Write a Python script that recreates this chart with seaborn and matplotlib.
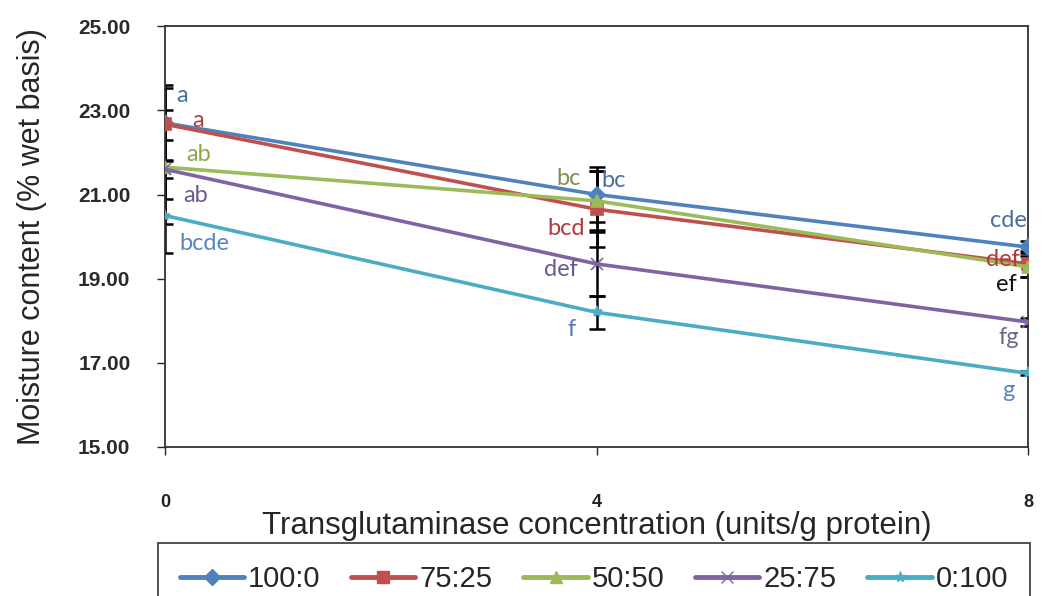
"""Moisture content vs transglutaminase concentration, by blend ratio."""

import matplotlib

matplotlib.use("Agg")
import matplotlib.pyplot as plt
import pandas as pd
import seaborn as sns
from matplotlib.lines import Line2D

concentration = [0, 4, 8]
blends = ["100:0", "75:25", "50:50", "25:75", "0:100"]

moisture_100_0 = [22.70, 21.00, 19.75]
moisture_75_25 = [22.67, 20.65, 19.35]
moisture_50_50 = [21.65, 20.85, 19.28]
moisture_25_75 = [21.60, 19.35, 17.97]
moisture_0_100 = [20.50, 18.20, 16.75]

sd_100_0 = [0.90, 0.65, 0.15]
sd_75_25 = [0.85, 0.90, 0.30]
sd_50_50 = [1.35, 0.70, 0.25]
sd_25_75 = [0.70, 0.75, 0.10]
sd_0_100 = [0.90, 0.40, 0.05]

letters_100_0 = ["a", "bc", "cde"]
letters_75_25 = ["a", "bcd", "def"]
letters_50_50 = ["ab", "bc", "ef"]
letters_25_75 = ["ab", "def", "fg"]
letters_0_100 = ["bcde", "f", "g"]

colors = ["#4F81BD", "#C0504D", "#9BBB59", "#8064A2", "#4BACC6"]
markers = ["D", "s", "^", "x", "*"]

means = [moisture_100_0, moisture_75_25, moisture_50_50, moisture_25_75, moisture_0_100]
sds = [sd_100_0, sd_75_25, sd_50_50, sd_25_75, sd_0_100]
letters = [letters_100_0, letters_75_25, letters_50_50, letters_25_75, letters_0_100]

rows = []
for b, m, s in zip(blends, means, sds):
    for c, v, e in zip(concentration, m, s):
        rows.append({"blend": b, "conc": c, "moisture": v, "sd": e})
df = pd.DataFrame(rows)

sns.set_style("white")
plt.rcParams["font.family"] = ["Liberation Sans", "DejaVu Sans"]

fig = plt.figure(figsize=(10.45, 5.96), dpi=100)
ax = fig.add_axes([0.158, 0.250, 0.826, 0.706])

# error bars first, lines on top
for b in blends:
    sub = df[df["blend"] == b]
    ax.errorbar(sub["conc"], sub["moisture"], yerr=sub["sd"], fmt="none",
                ecolor="black", elinewidth=1.8, capsize=6, capthick=1.8, zorder=2)

for b, col, mk in zip(blends, colors, markers):
    sub = df[df["blend"] == b]
    sns.lineplot(data=sub, x="conc", y="moisture", color=col, marker=mk,
                 linewidth=2.6, markersize=8, markeredgecolor=col,
                 markeredgewidth=1.2, legend=False, ax=ax, zorder=3)

# significance letters (offsets in points)
offsets = [
    [(12, 20), (12, 10), (-14, 19)],
    [(24, 3), (-22, -14), (-18, 3)],
    [(24, 9), (-20, 16), (-16, -13)],
    [(22, -19), (-26, -4), (-14, -11)],
    [(28, -20), (-18, -12), (-14, -12)],
]
letter_colors = [
    ["#4A6E9A", "#4A6E9A", "#4A6E9A"],
    ["#B03A3A", "#B03A3A", "#B03A3A"],
    ["#8AAA4A", "#7A9050", "#111111"],
    ["#6B5A8E", "#6B5A8E", "#6B6A88"],
    ["#5A86C2", "#4F7FB0", "#5A86C2"],
]
for i in range(len(blends)):
    for j, c in enumerate(concentration):
        ax.annotate(letters[i][j], (c, means[i][j]), xytext=offsets[i][j],
                    textcoords="offset points", ha="center", va="center",
                    fontsize=17, color=letter_colors[i][j],
                    family=["Lato", "DejaVu Sans"], zorder=5)

ax.set_xlim(0, 8)
ax.set_ylim(15, 25)
ax.set_xticks(concentration)
ax.set_yticks([15, 17, 19, 21, 23, 25])
ax.set_yticklabels([f"{v:.2f}" for v in [15, 17, 19, 21, 23, 25]],
                   fontweight="bold", fontsize=15, color="#2a2a2a")
ax.set_xticklabels([str(c) for c in concentration], fontweight="bold",
                   fontsize=13, color="#222222")
ax.tick_params(axis="y", direction="out", length=6, width=1, left=True, pad=19)
ax.tick_params(axis="x", direction="out", length=6, width=1, bottom=True, pad=28)
for sp in ax.spines.values():
    sp.set_color("#333333")
    sp.set_linewidth(1.3)

ax.set_ylabel("Moisture content (% wet basis)", fontsize=22, labelpad=22)
ax.set_xlabel("Transglutaminase concentration (units/g protein)", fontsize=22.5,
              labelpad=0)

handles = [Line2D([0], [0], color=c, marker=m, linewidth=3.5, markersize=8)
           for c, m in zip(colors, markers)]
leg = fig.legend(handles, blends, loc="upper left", ncol=5, mode="expand",
                 bbox_to_anchor=(0.151, 0.089, 0.835, 0.0), fontsize=21,
                 frameon=True, fancybox=False, handlelength=2.2,
                 handletextpad=0.15, borderpad=0.75, borderaxespad=0)
leg.get_frame().set_edgecolor("black")
leg.get_frame().set_linewidth(1.2)

fig.savefig("out.png", dpi=100)
